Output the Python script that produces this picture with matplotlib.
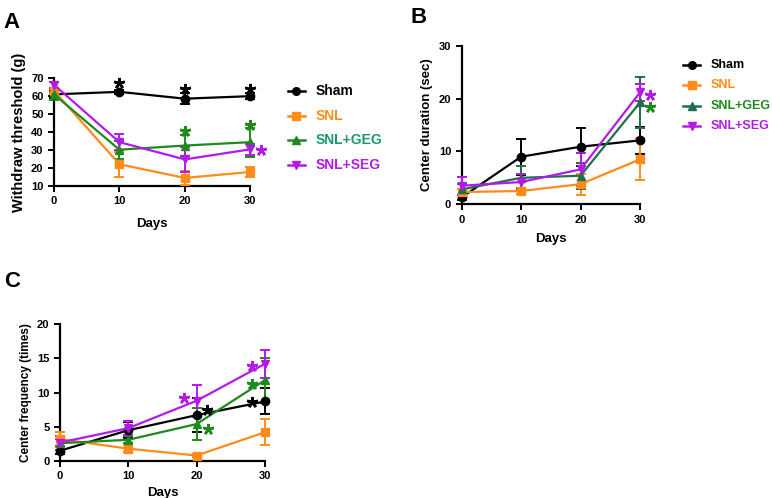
import matplotlib
matplotlib.use("Agg")
import matplotlib.pyplot as plt
from matplotlib.lines import Line2D

plt.rcParams['font.family'] = ['Liberation Sans', 'DejaVu Sans']
plt.rcParams['font.weight'] = 'bold'

days = [0, 10, 20, 30]
groups = ["Sham", "SNL", "SNL+GEG", "SNL+SEG"]

# Panel A: withdraw threshold (g)
a_sham = [61.0, 62.4, 58.6, 60.0]
a_sham_err = [2.0, 1.0, 3.0, 1.5]
a_snl = [63.0, 22.1, 14.5, 17.8]
a_snl_err = [1.5, 7.0, 4.0, 3.0]
a_geg = [61.0, 30.2, 32.5, 34.4]
a_geg_err = [3.0, 5.0, 6.0, 8.0]
a_seg = [66.3, 34.4, 24.8, 30.4]
a_seg_err = [1.5, 4.5, 7.0, 3.0]
# significance stars (x, y)
a_star_sham = ([10, 20, 30], [67.3, 64.0, 64.0])
a_star_geg = ([20, 30], [40.5, 44.0])
a_star_seg = ([31.6], [29.9])

# Panel B: center duration (sec)
b_sham = [1.3, 9.0, 10.9, 12.1]
b_sham_err = [0.5, 3.4, 3.6, 2.5]
b_snl = [2.3, 2.5, 3.8, 8.5]
b_snl_err = [0.5, 0.6, 2.0, 4.0]
b_geg = [2.8, 5.0, 5.4, 19.3]
b_geg_err = [1.0, 2.2, 2.5, 4.8]
b_seg = [3.5, 4.2, 6.6, 21.2]
b_seg_err = [1.7, 1.5, 3.1, 1.6]
b_star_seg = ([31.7], [20.8])
b_star_geg = ([31.7], [18.4])

# Panel C: center frequency (times)
c_sham = [1.5, 4.5, 6.7, 8.7]
c_sham_err = [0.5, 1.2, 2.5, 1.9]
c_snl = [3.2, 1.8, 0.8, 4.2]
c_snl_err = [1.1, 0.5, 0.2, 1.9]
c_geg = [2.6, 3.1, 5.4, 11.8]
c_geg_err = [1.0, 0.5, 2.4, 3.3]
c_seg = [2.7, 4.8, 8.8, 14.2]
c_seg_err = [0.5, 1.0, 2.3, 2.0]
c_star_seg = ([18.2, 28.1], [9.2, 13.9])
c_star_sham = ([21.5, 28.1], [7.5, 8.6])
c_star_geg = ([21.7, 28.1], [4.7, 11.3])

BLACK = "#000000"
ORANGE = "#FF8C1A"
GREEN = "#1E8A1E"
TEAL = "#1F6F4F"
PURPLE = "#B41AE6"
markers = ["o", "s", "^", "v"]

fig = plt.figure(figsize=(7.72, 4.98), dpi=100)


def style_axes(ax, ylim, yticks, ylabel, ylabel_fs, labelpad_x=8, fs=8):
    ax.set_xlim(0, 30)
    ax.set_ylim(*ylim)
    ax.set_xticks(days)
    ax.set_yticks(yticks)
    for s in ["top", "right"]:
        ax.spines[s].set_visible(False)
    for s in ["left", "bottom"]:
        ax.spines[s].set_linewidth(1.6)
    ax.tick_params(direction="out", length=4, width=1.4, labelsize=fs)
    for lab in ax.get_xticklabels() + ax.get_yticklabels():
        lab.set_fontweight("bold")
    ax.set_xlabel("Days", fontsize=9.5, fontweight="bold", labelpad=labelpad_x)
    ax.set_ylabel(ylabel, fontsize=ylabel_fs, fontweight="bold")


def draw(ax, series, colors, ms=6):
    for (y, e), c, m in zip(series, colors, markers):
        ax.errorbar(days, y, yerr=e, color=c, marker=m, markersize=ms, lw=1.6,
                    capsize=3.5, capthick=1.4, elinewidth=1.4, clip_on=False, zorder=3)


def stars(ax, pts, color):
    ax.plot(pts[0], pts[1], linestyle="none", marker=(5, 2, 0), markersize=8,
            markeredgewidth=1.8, color=color, clip_on=False, zorder=4)


def legend(colors, textcolors, x, y0, dy, fs):
    for i, (g, c, tc, m) in enumerate(zip(groups, colors, textcolors, markers)):
        y = y0 - i * dy
        fig.add_artist(Line2D([x, x + 0.022], [y, y], color=c, lw=1.8,
                              transform=fig.transFigure))
        fig.add_artist(Line2D([x + 0.011], [y], color=c, marker=m, markersize=5.5,
                              transform=fig.transFigure))
        fig.text(x + 0.036, y, g, color=tc, fontsize=fs, fontweight="bold",
                 va="center", ha="left")


# Panel A
axA = fig.add_axes([0.070, 0.6265, 0.254, 0.2165])
draw(axA, [(a_sham, a_sham_err), (a_snl, a_snl_err), (a_geg, a_geg_err), (a_seg, a_seg_err)],
     [BLACK, ORANGE, GREEN, PURPLE])
style_axes(axA, (10, 70), [10, 20, 30, 40, 50, 60, 70], "Withdraw threshold (g)", 10.5)
stars(axA, a_star_sham, BLACK)
stars(axA, a_star_geg, GREEN)
stars(axA, a_star_seg, PURPLE)
legend([BLACK, ORANGE, GREEN, PURPLE], [BLACK, ORANGE, "#1A9A6A", PURPLE],
       0.373, 1 - 91 / 498, 24.6 / 498, 10)
fig.text(0.005, 0.975, "A", fontsize=16, fontweight="bold", va="top")

# Panel B
axB = fig.add_axes([0.598, 0.590, 0.231, 0.3176])
draw(axB, [(b_sham, b_sham_err), (b_snl, b_snl_err), (b_geg, b_geg_err), (b_seg, b_seg_err)],
     [BLACK, ORANGE, TEAL, PURPLE])
style_axes(axB, (0, 30), [0, 10, 20, 30], "Center duration (sec)", 9.5, labelpad_x=6)
stars(axB, b_star_seg, PURPLE)
stars(axB, b_star_geg, GREEN)
legend([BLACK, ORANGE, TEAL, PURPLE], [BLACK, ORANGE, GREEN, PURPLE],
       0.885, 1 - 65 / 498, 20.3 / 498, 9)
fig.text(0.532, 0.985, "B", fontsize=16, fontweight="bold", va="top")

# Panel C
axC = fig.add_axes([0.0777, 0.0743, 0.2653, 0.2747])
draw(axC, [(c_sham, c_sham_err), (c_snl, c_snl_err), (c_geg, c_geg_err), (c_seg, c_seg_err)],
     [BLACK, ORANGE, GREEN, PURPLE])
style_axes(axC, (0, 20), [0, 5, 10, 15, 20], "Center frequency (times)", 8.5, labelpad_x=4)
stars(axC, c_star_seg, PURPLE)
stars(axC, c_star_sham, BLACK)
stars(axC, c_star_geg, GREEN)
fig.text(0.005, 0.455, "C", fontsize=16, fontweight="bold", va="top")

fig.savefig("out.png", dpi=100)
